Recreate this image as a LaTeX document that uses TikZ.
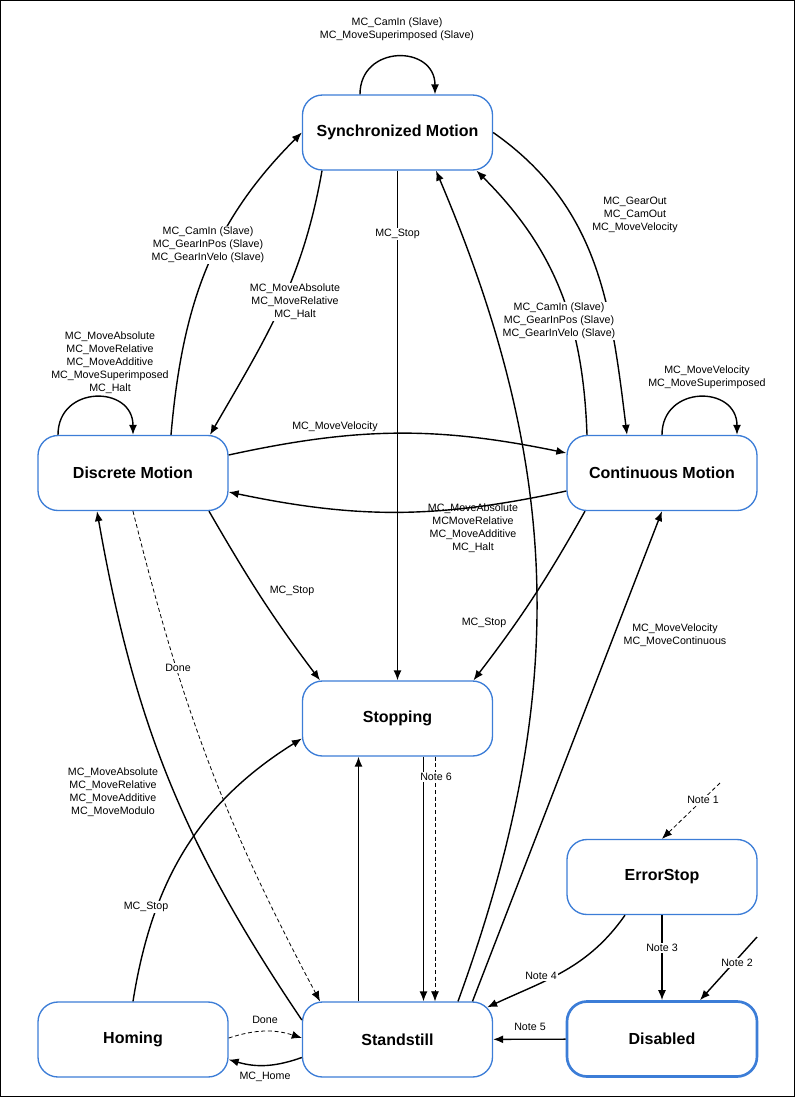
\documentclass[tikz,border=0pt]{standalone}
\usepackage{fontspec}
\setmainfont{Liberation Sans}
\usepackage{tikz}
\usetikzlibrary{arrows.meta, calc}
\definecolor{boxblue}{RGB}{60,125,215}

\begin{document}
\begin{tikzpicture}[x=0.75pt, y=-0.75pt,
				>={Latex[length=7.5pt,width=6pt]},
				line width=1.05pt,
				state/.style={draw=boxblue, line width=1pt, rounded corners=15pt, fill=white,
					minimum width=142.5pt, minimum height=56.25pt,
					font=\bfseries\fontsize{12}{14}\selectfont},
				lbl/.style={font=\fontsize{8}{9.75}\selectfont, align=center, inner sep=1pt},
				wlbl/.style={lbl, fill=white},
				dashline/.style={line width=0.6pt, dash pattern=on 3pt off 2pt}]
				\useasboundingbox (0,0) rectangle (795,1097);
				\draw[line width=1pt] (0.7,0.7) rectangle (794.3,1096.3);
				\node[state] at (397.5,132.5) (sync) {Synchronized Motion};
				\node[state] at (133,473) (disc) {Discrete Motion};
				\node[state] at (662,473) (cont) {Continuous Motion};
				\node[state] at (397.5,718.5) (stop) {Stopping};
				\node[state] at (662,877) (err) {ErrorStop};
				\node[state, line width=2pt] at (662,1039) (dis) {Disabled};
				\node[state] at (133,1039.5) (hom) {Homing};
				\node[state] at (397.5,1039.5) (stand) {Standstill};
				\coordinate (n1) at (720,783);
				\coordinate (n2) at (757,937);
				\draw[->] ($(sync.north)+(-37.5,0)$) .. controls +(0,-50) and +(0,-50) .. ($(sync.north)+(37.5,0)$);
				\draw[->] ($(disc.north)+(38,0)$) to[out=85, in=225] (sync.west);
				\draw[->] ($(sync.south)+(-75.5,0)$) to[out=-100, in=60] ($(disc.north)+(77,0)$);
				\draw[->] (sync) -- (stop);
				\draw[->] (sync.east) to[out=-35, in=97] ($(cont.north)+(-35,0)$);
				\draw[->] ($(cont.north)+(-75,0)$) to[out=92, in=-45] ($(sync.south)+(79,0)$);
				\draw[->] (cont.north) .. controls +(0,-50) and +(0,-50) .. ($(cont.north)+(75,0)$);
				\draw[->] ($(disc.north)+(-75,0)$) .. controls +(0,-50) and +(0,-50) .. (disc.north);
				\draw[->] ($(disc.east)+(0,-18)$) to[bend left=12] ($(cont.west)+(0,-20)$);
				\draw[->] ($(cont.west)+(0,18)$) to[bend left=12] ($(disc.east)+(0,19)$);
				\draw[->] ($(disc.south)+(76,0)$) to[out=-60, in=127] ($(stop.north)+(-77.5,0)$);
				\draw[->] ($(cont.south)+(-77,0)$) to[bend left=4] ($(stop.north)+(76,0)$);
				\draw[->] ($(stand.west)+(0,-19.5)$) to[out=124, in=-80] ($(disc.south)+(-36,0)$);
				\draw[->, dashline] (disc.south) to[out=-76, in=118] ($(stand.north)+(-77.5,0)$);
				\draw[->] (hom.north) to[out=81, in=212] ($(stop.west)+(0,20)$);
				\draw[->] ($(stand.north)+(-39,0)$) -- ($(stop.south)+(-39,0)$);
				\draw[->] ($(stop.south)+(26,0)$) -- ($(stand.north)+(26,0)$);
				\draw[->, dashline] ($(stop.south)+(37.5,0)$) -- ($(stand.north)+(37.5,0)$);
				\draw[->] ($(stand.north)+(60.5,0)$) to[out=70, in=-67] ($(sync.south)+(38.5,0)$);
				\draw[->] ($(stand.north)+(75,0)$) -- (cont.south);
				\draw[->] ($(err.south)+(-37,0)$) to[out=-125, in=25] ($(stand.north east)+(-6,6)$);
				\draw[->] (err) -- (dis);
				\draw[->] (n2) -- ($(dis.north)+(38,0)$);
				\draw[->, dashline] (n1) -- (err.north);
				\draw[->] (dis) -- (stand);
				\draw[->, dashline] ($(hom.east)+(0,-1.5)$) to[bend left=18] ($(stand.west)+(0,-1.5)$);
				\draw[->] ($(stand.west)+(0,18)$) to[bend left=18] ($(hom.east)+(0,20)$);
				\node[lbl] (lsyncloop) at (397,29) {MC\_CamIn (Slave)\\MC\_MoveSuperimposed (Slave)};
				\node[wlbl] (ldisctosync) at (208,245) {MC\_CamIn (Slave)\\MC\_GearInPos (Slave)\\MC\_GearInVelo (Slave)};
				\node[wlbl] (lsynctodisc) at (295,302) {MC\_MoveAbsolute\\MC\_MoveRelative\\MC\_Halt};
				\node[wlbl] (lsynctostop) at (397.5,234) {MC\_Stop};
				\node[lbl] (lsynctocont) at (635,215) {MC\_GearOut\\MC\_CamOut\\MC\_MoveVelocity};
				\node[wlbl] (lconttosync) at (559,321) {MC\_CamIn (Slave)\\MC\_GearInPos (Slave)\\MC\_GearInVelo (Slave)};
				\node[lbl] (lcontloop) at (707,377) {MC\_MoveVelocity\\MC\_MoveSuperimposed};
				\node[lbl] (ldiscloop) at (110,362.5) {MC\_MoveAbsolute\\MC\_MoveRelative\\MC\_MoveAdditive\\MC\_MoveSuperimposed\\MC\_Halt};
				\node[lbl] (ldisctocont) at (335,427) {MC\_MoveVelocity};
				\node[lbl] (lconttodisc) at (473,528.5) {MC\_MoveAbsolute\\MCMoveRelative\\MC\_MoveAdditive\\MC\_Halt};
				\node[lbl] (ldisctostop) at (292,591) {MC\_Stop};
				\node[lbl] (lconttostop) at (484,623) {MC\_Stop};
				\node[lbl] (lstandtodisc) at (113,792.5) {MC\_MoveAbsolute\\MC\_MoveRelative\\MC\_MoveAdditive\\MC\_MoveModulo};
				\node[wlbl] (ldone) at (178,668) {Done};
				\node[wlbl] (lhomtostop) at (146,907) {MC\_Stop};
				\node[wlbl] (lnote6) at (436,777) {Note 6};
				\node[lbl] (lstandtocont) at (675,635.5) {MC\_MoveVelocity\\MC\_MoveContinuous};
				\node[wlbl] (lnote4) at (541,976) {Note 4};
				\node[wlbl] (lnote3) at (662,948) {Note 3};
				\node[wlbl] (lnote2) at (737,963) {Note 2};
				\node[wlbl] (lnote1) at (703,800) {Note 1};
				\node[lbl] (lnote5) at (530,1027) {Note 5};
				\node[lbl] (lhomdone) at (265,1020) {Done};
				\node[lbl] (lhome) at (265,1077) {MC\_Home};
			\end{tikzpicture}
\end{document}
